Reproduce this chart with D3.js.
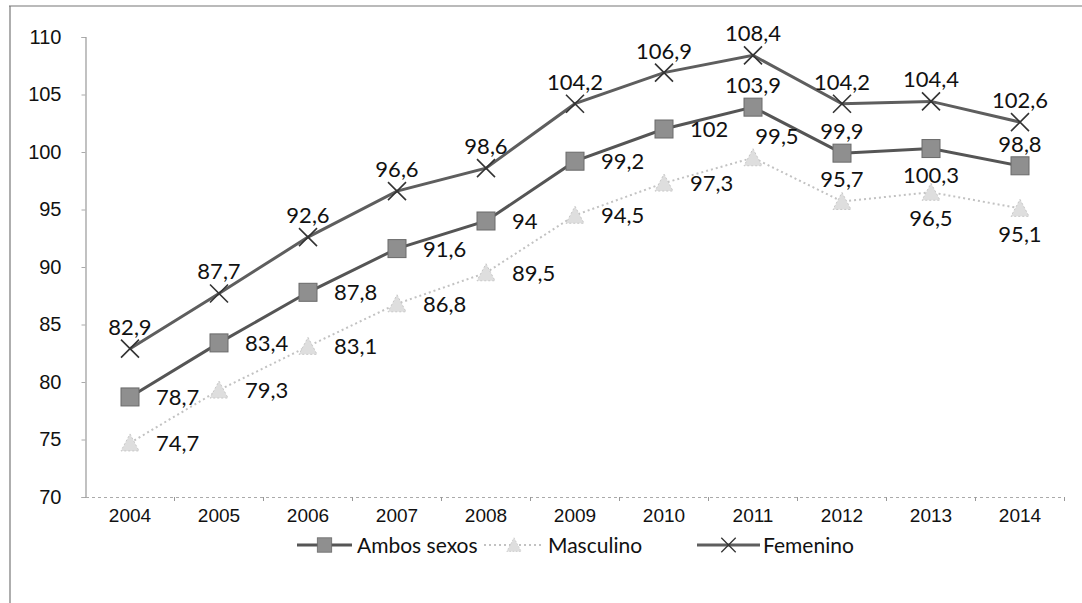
<!DOCTYPE html>
<html>
<head>
<meta charset="utf-8">
<script src="https://cdn.jsdelivr.net/npm/d3@7"></script>
<style>
  html, body { margin: 0; padding: 0; background: #fff; }
  svg { display: block; }
</style>
</head>
<body>
<svg id="chart" width="1082" height="603"></svg>
<script>
const years = ["2004","2005","2006","2007","2008","2009","2010","2011","2012","2013","2014"];
const ambos = [78.7, 83.4, 87.8, 91.6, 94, 99.2, 102, 103.9, 99.9, 100.3, 98.8];
const masculino = [74.7, 79.3, 83.1, 86.8, 89.5, 94.5, 97.3, 99.5, 95.7, 96.5, 95.1];
const femenino = [82.9, 87.7, 92.6, 96.6, 98.6, 104.2, 106.9, 108.4, 104.2, 104.4, 102.6];
const yTicks = [70, 75, 80, 85, 90, 95, 100, 105, 110];
const seriesNames = ["Ambos sexos", "Masculino", "Femenino"];

// label placement (style config, not data)
const placeAmbos = ["r","r","r","r","r","r","r","a","a","b","a"];
const placeMasc  = ["r","r","r","r","r","r","r","ar","a","b","b"];
const placeFem   = ["a","a","a","a","a","a","a","a","a","a","a"];

(function () {
const svg = d3.select("#chart");
const W = 1082, H = 603;
const pLeft = 85.5, pRight = 1064.5, pTop = 37, pBottom = 497;

const x = d3.scaleBand().domain(years).range([pLeft, pRight]).padding(0);
const y = d3.scaleLinear().domain([70, 110]).range([pBottom, pTop]);
const cx = d => x(d) + x.bandwidth() / 2;

// scan frame
svg.append("line").attr("x1", 9).attr("x2", W).attr("y1", 6).attr("y2", 6)
  .attr("stroke", "#777").attr("stroke-width", 1.2);
svg.append("line").attr("x1", 10).attr("x2", 10).attr("y1", 6).attr("y2", H)
  .attr("stroke", "#777").attr("stroke-width", 1.2);

const axisFont = "'Liberation Sans', Arial, sans-serif";

// axes
const yAxis = d3.axisLeft(y).tickValues(yTicks).tickSize(4).tickPadding(20)
  .tickFormat(d3.format("d"));
const gy = svg.append("g").attr("transform", `translate(${pLeft},0)`).call(yAxis);
gy.attr("font-size", 20).attr("font-family", axisFont);
gy.select(".domain").attr("stroke", "#999").attr("stroke-width", 1.2);
gy.selectAll(".tick line").attr("stroke", "#aaa");
gy.selectAll(".tick text").attr("fill", "#111");

const xAxis = d3.axisBottom(x).tickSize(0).tickPadding(12);
const gx = svg.append("g").attr("transform", `translate(0,${pBottom})`).call(xAxis);
gx.attr("font-size", 19).attr("font-family", axisFont);
gx.select(".domain").attr("stroke", "#aaa").attr("stroke-width", 1).attr("stroke-dasharray", "3,3");
gx.selectAll(".tick text").attr("fill", "#111");
// tick marks between categories
svg.append("g").selectAll("line").data(years)
  .join("line")
  .attr("x1", (d, i) => pLeft + (i + 1) * x.step())
  .attr("x2", (d, i) => pLeft + (i + 1) * x.step())
  .attr("y1", pBottom).attr("y2", pBottom + 4)
  .attr("stroke", "#999");

const line = d3.line().x((d, i) => cx(years[i])).y(d => y(d));

const labelFont = "Lato, 'Open Sans', sans-serif";

function drawSeries(vals, opts) {
  const g = svg.append("g");
  g.append("path").datum(vals).attr("d", line)
    .attr("fill", "none").attr("stroke", opts.color)
    .attr("stroke-width", opts.width)
    .attr("stroke-dasharray", opts.dash || null);
  const m = g.selectAll(".m").data(vals).join("g")
    .attr("transform", (d, i) => `translate(${cx(years[i])},${y(d)})`);
  opts.marker(m);
  return g;
}

function squareMarker(sel) {
  sel.append("rect").attr("x", -9).attr("y", -9).attr("width", 18).attr("height", 18)
    .attr("fill", "#8f8f8f").attr("stroke", "#6a6a6a").attr("stroke-width", 1);
}
function triMarker(sel) {
  sel.append("path").attr("d", "M0,-9 L9,8 L-9,8 Z")
    .attr("fill", "#dedede").attr("stroke", "#c8c8c8").attr("stroke-width", 1)
    .attr("stroke-dasharray", "2,2");
}
function crossMarker(sel) {
  sel.append("path").attr("d", "M-9,-9 L9,9 M9,-9 L-9,9")
    .attr("stroke", "#333").attr("stroke-width", 1.6).attr("fill", "none");
}

drawSeries(masculino, { color: "#c2c2c2", width: 2, dash: "2,3", marker: triMarker });
drawSeries(ambos, { color: "#555", width: 3, marker: squareMarker });
drawSeries(femenino, { color: "#5e5e5e", width: 3, marker: crossMarker });

const fmt = v => String(v).replace(".", ",");

function drawLabels(vals, places) {
  svg.append("g").selectAll("text").data(vals).join("text")
    .attr("font-family", labelFont).attr("font-size", 22).attr("fill", "#111")
    .attr("x", (d, i) => {
      const p = places[i], px = cx(years[i]);
      if (p === "r") return px + 26;
      if (p === "ar") return px + 24;
      return px;
    })
    .attr("y", (d, i) => {
      const p = places[i], py = y(d);
      if (p === "r") return py + 8;
      if (p === "a" || p === "ar") return py - 14;
      return py + 34;
    })
    .attr("text-anchor", (d, i) => places[i] === "r" ? "start" : "middle")
    .text(d => fmt(d));
}
drawLabels(masculino, placeMasc);
drawLabels(ambos, placeAmbos);
drawLabels(femenino, placeFem);

// legend
const legendY = 545;
const legend = [
  { name: seriesNames[0], x0: 297, x1: 352, tx: 357, color: "#555", width: 3, dash: null, marker: squareMarker },
  { name: seriesNames[1], x0: 484, x1: 544, tx: 548, color: "#c2c2c2", width: 2, dash: "2,3", marker: triMarker },
  { name: seriesNames[2], x0: 697, x1: 760, tx: 763, color: "#5e5e5e", width: 3, dash: null, marker: crossMarker }
];
const lg = svg.append("g").selectAll("g").data(legend).join("g");
lg.append("line").attr("x1", d => d.x0).attr("x2", d => d.x1)
  .attr("y1", legendY).attr("y2", legendY)
  .attr("stroke", d => d.color).attr("stroke-width", d => d.width)
  .attr("stroke-dasharray", d => d.dash);
lg.each(function(d) {
  const m = d3.select(this).append("g")
    .attr("transform", `translate(${(d.x0 + d.x1) / 2},${legendY}) scale(0.8)`);
  d.marker(m);
});
lg.append("text").attr("x", d => d.tx).attr("y", legendY + 8)
  .attr("font-family", labelFont).attr("font-size", 21).attr("fill", "#111")
  .text(d => d.name);
})();
</script>
</body>
</html>
